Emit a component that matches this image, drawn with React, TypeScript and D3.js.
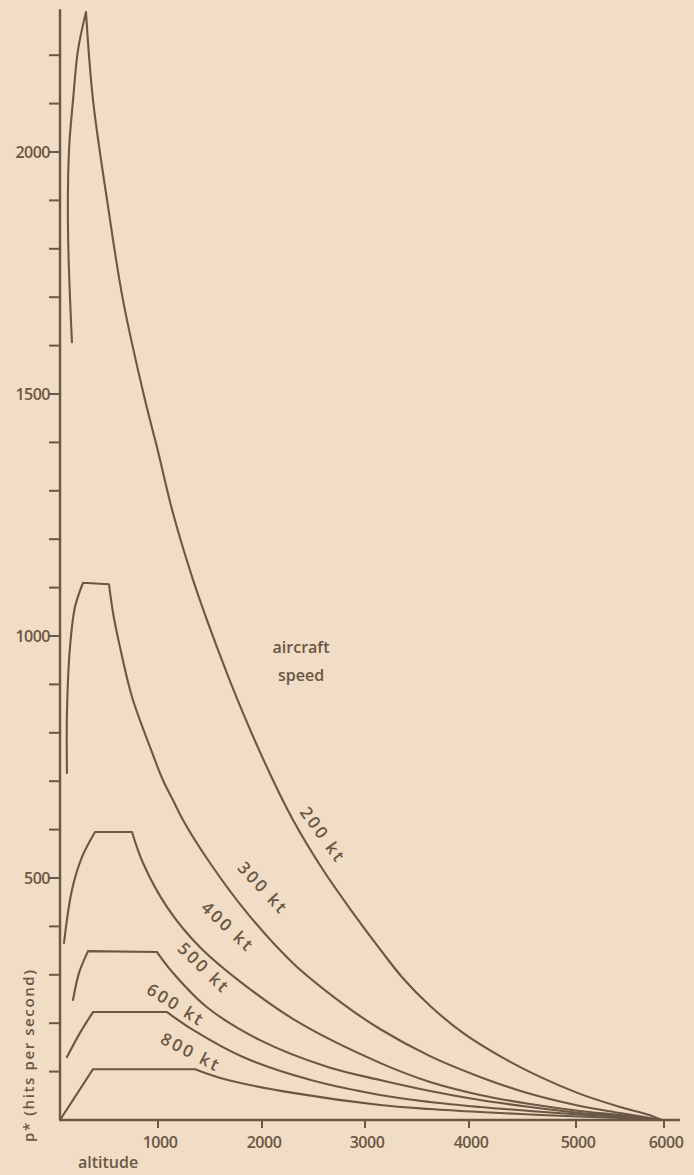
import * as d3 from "d3";

type Pt = [number, number]; // [altitude, hits per second]

const altitudeTicks = [1000, 2000, 3000, 4000, 5000, 6000];
const rateLabels = [500, 1000, 1500, 2000];
const rateMinor = d3.range(100, 2300, 100);

// ticks on the printed figure are not evenly spaced, so the scale follows them
const altitudeStops = [0, 1000, 2000, 3000, 4000, 5000, 6000];

const speeds = ["200 kt", "300 kt", "400 kt", "500 kt", "600 kt", "800 kt"];

// rising part (low altitude) and falling part; plateau joins the two
const rise200: Pt[] = [[122, 1607], [82, 1833], [92, 2004], [133, 2107], [184, 2211], [265, 2289]];
const fall200: Pt[] = [
  [265, 2289], [337, 2107], [480, 1901], [643, 1694], [867, 1488], [990, 1390],
  [1144, 1254], [1337, 1116], [1567, 977], [1817, 841], [2107, 702], [2301, 620],
  [2592, 517], [2883, 428], [3144, 353], [3365, 293], [3625, 236], [3942, 180],
  [4290, 132], [4664, 89], [5045, 54], [5500, 27], [5841, 10], [5970, 0],
];

const rise300: Pt[] = [[71, 717], [71, 841], [102, 977], [153, 1060], [235, 1110]];
const fall300: Pt[] = [
  [500, 1107], [541, 1048], [612, 977], [735, 874], [918, 771], [1048, 702],
  [1144, 661], [1240, 620], [1500, 531], [1856, 428], [2301, 324], [2786, 240],
  [3144, 188], [3625, 132], [4103, 89], [4570, 54], [5045, 29], [5500, 14.5],
  [5970, 0],
];

const rise400: Pt[] = [[41, 366], [122, 475], [224, 543], [357, 595]];
const fall400: Pt[] = [
  [735, 595], [847, 531], [1087, 440], [1404, 357], [1856, 275], [2369, 200],
  [3144, 118], [3625, 78.5], [4103, 51.7], [4570, 33], [5045, 18.6], [5500, 10.3],
  [5970, 0],
];

const rise500: Pt[] = [[133, 248], [194, 304], [286, 349]];
const fall500: Pt[] = [
  [990, 347], [1144, 304], [1471, 233], [1981, 165], [2631, 110], [3144, 82.6],
  [3625, 60], [4103, 41.3], [4570, 26.9], [5045, 14.5], [5500, 8.3], [5970, 0],
];

const rise600: Pt[] = [[71, 130], [204, 180], [337, 223]];
const fall600: Pt[] = [
  [1087, 223], [1337, 186], [1817, 130], [2466, 83], [3144, 51.7], [3625, 37.2],
  [4103, 26.9], [4570, 18.6], [5045, 11.4], [5500, 6.2], [5970, 0],
];

const rise800: Pt[] = [[0, 0], [337, 105]];
const fall800: Pt[] = [
  [1356, 105], [1663, 83], [2301, 56], [3144, 31], [3625, 22.7], [4103, 16.5],
  [4570, 11.4], [5045, 7.2], [5500, 4.1], [5970, 0],
];

const rises = [rise200, rise300, rise400, rise500, rise600, rise800];
const falls = [fall200, fall300, fall400, fall500, fall600, fall800];

// label anchor [altitude, rate] and rotation
const labelAt: Pt[] = [[2592, 589], [2010, 479], [1673, 399], [1442, 314], [1173, 238], [1317, 140]];
const labelAngle = [54, 47, 43, 44, 32, 27];

const ink = "#6a5744";
const paper = "#f1dcc5";
const font = "'Open Sans', 'DejaVu Sans', sans-serif";

export default function App() {
  const width = 694;
  const height = 1175;

  const x = d3
    .scaleLinear()
    .domain(altitudeStops)
    .range([60, 158, 262, 365, 469, 576, 664]);
  const y = d3.scaleLinear().domain([0, 2000]).range([1120, 152]);

  const smooth = d3
    .line<Pt>()
    .x((d) => x(d[0]))
    .y((d) => y(d[1]))
    .curve(d3.curveCatmullRom.alpha(0.5));
  const straight = d3
    .line<Pt>()
    .x((d) => x(d[0]))
    .y((d) => y(d[1]));

  return (
    <svg
      width={width}
      height={height}
      style={{ position: "absolute", left: 0, top: 0 }}
      fontFamily={font}
    >
      <rect width={width} height={height} fill={paper} />

      {/* curves */}
      <g fill="none" stroke={ink} strokeWidth={2.1} strokeLinejoin="round" strokeLinecap="round">
        {speeds.map((s, i) => {
          const r = rises[i];
          const f = falls[i];
          const d =
            (smooth(r) ?? "") +
            (straight([r[r.length - 1], f[0]]) ?? "") +
            (smooth(f) ?? "");
          return <path key={s} d={d} />;
        })}
      </g>

      {/* y axis */}
      <g stroke={ink} strokeWidth={2.4}>
        <line x1={x(0)} x2={x(0)} y1={y(0)} y2={y(2295)} />
        {rateMinor.map((v) => (
          <line key={v} x1={x(0) - 11} x2={x(0)} y1={y(v)} y2={y(v)} strokeWidth={2} />
        ))}
      </g>
      <g fill={ink} fontSize={16} fontWeight={600} textAnchor="end">
        {rateLabels.map((v) => (
          <text key={v} x={x(0) - 10} y={y(v) + 5.5} letterSpacing={-0.5}>
            {v}
          </text>
        ))}
      </g>

      {/* x axis */}
      <g stroke={ink} strokeWidth={2.4}>
        <line x1={x(0)} x2={x(6180)} y1={y(0)} y2={y(0)} />
        {altitudeTicks.map((a) => (
          <line key={a} x1={x(a)} x2={x(a)} y1={y(0)} y2={y(0) + 8} strokeWidth={2} />
        ))}
      </g>
      <g fill={ink} fontSize={16} fontWeight={600} textAnchor="middle">
        {altitudeTicks.map((a) => (
          <text key={a} x={x(a) + 2} y={y(0) + 28} letterSpacing={-0.5}>
            {a}
          </text>
        ))}
      </g>

      {/* axis titles */}
      <text
        transform={`translate(34, ${y(0) + 22}) rotate(-90)`}
        fill={ink}
        fontSize={15}
        fontWeight={600}
        letterSpacing={1.6}
      >
        p* (hits per second)
      </text>
      <text x={108} y={1168} fill={ink} fontSize={16} fontWeight={600} textAnchor="middle">
        altitude
      </text>

      {/* speed labels */}
      <g fill={ink} fontSize={16} fontWeight={600} textAnchor="middle">
        <text x={x(2379)} y={y(971) + 3}>aircraft</text>
        <text x={x(2379)} y={y(971) + 31}>speed</text>
        {speeds.map((s, i) => (
          <text
            key={s}
            transform={`translate(${x(labelAt[i][0])}, ${y(labelAt[i][1])}) rotate(${labelAngle[i]})`}
            dy={6}
            fontSize={17}
            letterSpacing={2.5}
          >
            {s}
          </text>
        ))}
      </g>
    </svg>
  );
}
